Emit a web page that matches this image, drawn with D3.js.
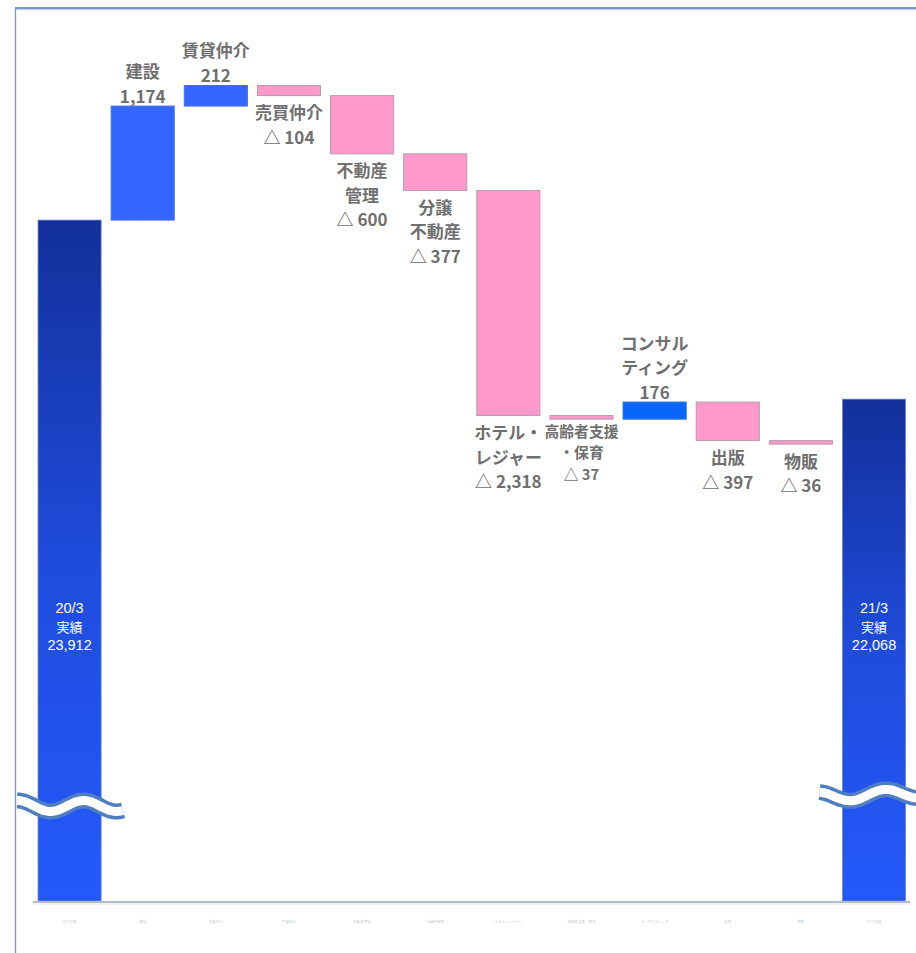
<!DOCTYPE html>
<html lang="ja">
<head>
<meta charset="utf-8">
<script src="https://cdn.jsdelivr.net/npm/d3@7"></script>
<style>
  html, body { margin: 0; padding: 0; background: #ffffff; }
  svg { display: block; }
</style>
</head>
<body>
<script>
// ---- data ----
const categories = ["20/3実績", "建設", "賃貸仲介", "売買仲介", "不動産管理", "分譲不動産",
  "ホテル・レジャー", "高齢者支援・保育", "コンサルティング", "出版", "物販", "21/3実績"];
const startTotal = 23912;
const endTotal = 22068;
const changes = [1174, 212, -104, -600, -377, -2318, -37, 176, -397, -36];
const stepLabelLines = [["建設"], ["賃貸仲介"], ["売買仲介"], ["不動産", "管理"], ["分譲", "不動産"],
  ["ホテル・", "レジャー"], ["高齢者支援", "・保育"], ["コンサル", "ティング"], ["出版"], ["物販"]];
const startLabelLines = ["20/3", "実績"];
const endLabelLines = ["21/3", "実績"];
// value shown at the broken baseline (the axis is cut below this level)
const axisFloor = 16900;
const axisCeiling = 25300;

// ---- layout ----
const W = 916, H = 953;
const baseY = 901;
const svg = d3.select("body").append("svg").attr("width", W).attr("height", H);

const x = d3.scaleBand().domain(categories)
  .range([33, 910.6]).paddingInner(0.137).paddingOuter(0.0685);
const y = d3.scaleLinear().domain([axisFloor, axisCeiling]).range([baseY, 85.3]);

const fmt = d3.format(",");
const textFont = "'Noto Sans CJK JP', 'Noto Sans', sans-serif";
const digitFont = "'Liberation Sans', Arial, sans-serif";

// running totals for the steps
let run = startTotal;
const steps = changes.map((v, i) => {
  const from = run; run += v;
  return { name: categories[i + 1], value: v, from, to: run, lines: stepLabelLines[i] };
});

// ---- frame ----
svg.append("line").attr("x1", 15).attr("x2", W).attr("y1", 9.5).attr("y2", 9.5)
  .attr("stroke", "#c9d3e2").attr("stroke-width", 1.5);
svg.append("line").attr("x1", 15).attr("x2", W).attr("y1", 8).attr("y2", 8)
  .attr("stroke", "#4f78bd").attr("stroke-width", 1.5);
svg.append("line").attr("x1", 15.5).attr("x2", 15.5).attr("y1", 8).attr("y2", H)
  .attr("stroke", "#7d93bd").attr("stroke-width", 1.3);

// ---- gradient for the totals ----
const defs = svg.append("defs");
const grad = defs.append("linearGradient").attr("id", "totalGrad")
  .attr("x1", 0).attr("x2", 0).attr("y1", 0).attr("y2", 1);
grad.append("stop").attr("offset", 0).attr("stop-color", "#13309a");
grad.append("stop").attr("offset", 0.5).attr("stop-color", "#1f4cdc");
grad.append("stop").attr("offset", 1).attr("stop-color", "#2459fb");

// ---- total bars ----
const totals = [
  { name: categories[0], value: startTotal, lines: startLabelLines },
  { name: categories[categories.length - 1], value: endTotal, lines: endLabelLines }
];
svg.selectAll("rect.total").data(totals).join("rect").attr("class", "total")
  .attr("x", d => x(d.name)).attr("width", x.bandwidth())
  .attr("y", d => y(d.value)).attr("height", d => baseY - y(d.value))
  .attr("fill", "url(#totalGrad)").attr("stroke", "#6f84c6").attr("stroke-width", 0.8);

// ---- step bars ----
const stepColor = d => d.value < 0 ? "#ff99cc" : (d.name === "コンサルティング" ? "#0866fb" : "#3366ff");
const stepStroke = d => d.value < 0 ? "#b59eab" : (d.name === "コンサルティング" ? "#2a6fd8" : "#4a6ee6");
svg.selectAll("rect.step").data(steps).join("rect").attr("class", "step")
  .attr("x", d => x(d.name)).attr("width", x.bandwidth())
  .attr("y", d => y(Math.max(d.from, d.to)))
  .attr("height", d => Math.abs(y(d.from) - y(d.to)))
  .attr("fill", stepColor).attr("stroke", stepStroke).attr("stroke-width", 1);

// ---- step labels ----
const tightLabel = { "高齢者支援・保育": { size: 14.8, gap: 21.5, offset: 11 } };
steps.forEach(d => {
  const o = tightLabel[d.name] || { size: 17, gap: 24.5, offset: d.value < 0 ? 16 : 11 };
  const lines = d.lines.concat([d.value < 0 ? "△ " + fmt(-d.value) : fmt(d.value)]);
  const cx = x(d.name) + x.bandwidth() / 2;
  const n = lines.length;
  const y0 = d.value < 0
    ? y(Math.min(d.from, d.to)) + o.offset
    : y(Math.max(d.from, d.to)) - o.offset - (n - 1) * o.gap;
  lines.forEach((s, i) => svg.append("text").attr("text-anchor", "middle")
    .attr("font-family", textFont).attr("font-size", o.size).attr("font-weight", 700)
    .attr("fill", "#6f6f6f").attr("dominant-baseline", "central")
    .attr("x", cx).attr("y", y0 + i * o.gap).text(s));
});

// ---- total labels ----
totals.forEach(d => {
  const cx = x(d.name) + x.bandwidth() / 2;
  const lines = d.lines.concat([fmt(d.value)]);
  lines.forEach((s, i) => {
    const cjk = /[^\x00-\x7f]/.test(s);
    svg.append("text").attr("text-anchor", "middle")
      .attr("font-family", cjk ? textFont : digitFont).attr("font-size", cjk ? 13 : 14.5)
      .attr("fill", "#ffffff").attr("dominant-baseline", "central")
      .attr("x", cx).attr("y", 608 + i * 18.5).text(s);
  });
});

// ---- axis break marks on the totals ----
function breakMark(x0, x1, yc, amp, period, phase, tilt) {
  const pts = d3.range(x0, x1 + 1, 2).map(px =>
    [px, yc + amp * Math.sin(2 * Math.PI * (px - phase) / period) + tilt * (px - x0)]);
  const line = d3.line().curve(d3.curveBasis);
  const g = svg.append("g");
  g.append("path").attr("d", line(pts)).attr("fill", "none")
    .attr("stroke", "#4f7fc0").attr("stroke-width", 16);
  g.append("path").attr("d", line(pts)).attr("fill", "none")
    .attr("stroke", "#ffffff").attr("stroke-width", 9);
}
const bw = x.bandwidth();
breakMark(x(categories[0]) - 21, x(categories[0]) + bw + 21, baseY - 95, 5.5, 66, 34, 0);
breakMark(x(categories[11]) - 23, W + 4, baseY - 104, 5, 68, 834, -0.04);

// ---- category axis ----
svg.append("line").attr("x1", 33).attr("x2", 910).attr("y1", baseY + 1).attr("y2", baseY + 1)
  .attr("stroke", "#b3bdc8").attr("stroke-width", 2);
svg.append("line").attr("x1", 33).attr("x2", 910).attr("y1", baseY + 3).attr("y2", baseY + 3)
  .attr("stroke", "#dfe5ea").attr("stroke-width", 1);
const axis = svg.append("g").attr("transform", `translate(0,${baseY + 19})`)
  .call(d3.axisBottom(x).tickSize(0).tickFormat(d => d));
axis.select(".domain").remove();
axis.selectAll("text").attr("font-size", 3.5).attr("fill", "#c6cbd1")
  .attr("font-family", textFont).attr("dy", 0);
</script>
</body>
</html>
